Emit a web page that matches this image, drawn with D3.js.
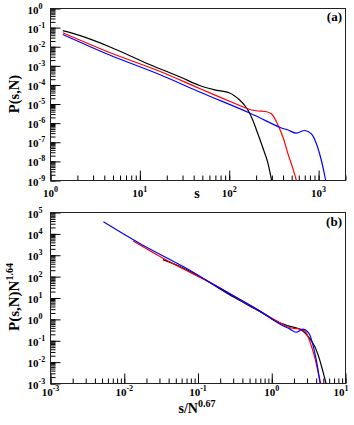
<!DOCTYPE html>
<html>
<head>
<meta charset="utf-8">
<script src="https://cdn.jsdelivr.net/npm/d3@7"></script>
<style>
  body { margin: 0; background: #fff; }
  text { font-family: "Liberation Serif", "Times New Roman", serif; font-weight: bold; fill: #000; }
</style>
</head>
<body>
<svg id="chart" width="354" height="425"></svg>
<script>
// system sizes and scaling exponents used for the collapse in panel (b)
const sizes = [256, 1024, 4096];
const colors = ['#000', '#f00', '#00f'];
const sExp = 0.67;
const pExp = 1.64;

// P(s,N)
const sBlack = [1.373, 2.112, 4.579, 12.84, 27.84, 46.62, 68.62, 101.0, 130.8, 156.6, 178.2, 202.7, 236.6, 269.2, 298.5, 330.8];
const pBlack = [0.070, 0.039, 1.0e-2, 1.174e-3, 2.70e-4, 9.35e-5, 5.57e-5, 3.79e-5, 1.63e-5, 6.21e-6, 1.98e-6, 4.13e-7, 5.52e-8, 9.06e-9, 1.0e-9, 1.64e-10];

const sRed = [1.373, 4.579, 16.62, 46.62, 130.8, 169.2, 208.0, 255.6, 298.5, 339.5, 399.4, 454.4, 516.8, 564.1, 598.7];
const pRed = [0.0535, 4.98e-3, 5.24e-4, 6.51e-5, 8.39e-6, 5.19e-6, 4.33e-6, 4.07e-6, 3.02e-6, 1.12e-6, 1.84e-7, 2.49e-8, 4.09e-9, 1.0e-9, 3.0e-10];

const sBlue = [1.373, 4.579, 16.62, 46.62, 169.2, 366.7, 454.4, 564.1, 698.8, 830.6, 944.9, 1075, 1201, 1265];
const pBlue = [0.04359, 3.69e-3, 3.52e-4, 4.27e-5, 3.40e-6, 6.15e-7, 4.39e-7, 2.98e-7, 4.13e-7, 2.77e-7, 8.32e-8, 1.11e-8, 1.0e-9, 3.0e-10];

const sData = [sBlack, sRed, sBlue];
const pData = [pBlack, pRed, pBlue];

// axis domains (decades)
const xDomainA = [1, 2000];
const yDomainA = [1e-9, 1];
const xDomainB = [1e-3, 10];
const yDomainB = [1e-3, 1e5];

const svg = d3.select('#chart');
const left = 50.5, right = 345.5;

const xA = d3.scaleLog().domain(xDomainA).range([left, right]);
const yA = d3.scaleLog().domain(yDomainA).range([180.5, 8.5]);
const xB = d3.scaleLog().domain(xDomainB).range([left, right]);
const yB = d3.scaleLog().domain(yDomainB).range([383.5, 212.5]);

// every m*10^k inside the domain
function logTicks(scale) {
  const [a, b] = scale.domain();
  const out = [];
  for (let k = Math.floor(Math.log10(a)); k <= Math.ceil(Math.log10(b)); k++) {
    for (let m = 1; m <= 9; m++) {
      const v = m * Math.pow(10, k);
      if (v >= a * 0.999 && v <= b * 1.001) out.push(v);
    }
  }
  return out;
}
function decades(scale) {
  return logTicks(scale).filter(v => Math.abs(Math.log10(v) - Math.round(Math.log10(v))) < 1e-9);
}
function powText(sel, v, supSize, dy) {
  const e = Math.round(Math.log10(v));
  sel.append('tspan').text('10');
  sel.append('tspan').attr('font-size', supSize).attr('dy', dy).text(e);
}

function drawPanel(id, x, y, lines, xLabelY) {
  const g = svg.append('g');
  const x0 = x.range()[0], x1 = x.range()[1];
  const yb = y.range()[0], yt = y.range()[1];

  g.append('clipPath').attr('id', id)
    .append('rect').attr('x', x0).attr('y', yt).attr('width', x1 - x0).attr('height', yb - yt);

  // ticks point inward, bottom and left only
  g.append('g').attr('transform', `translate(0,${yb})`)
    .call(d3.axisBottom(x).tickValues(logTicks(x)).tickSize(-5).tickFormat(''))
    .call(a => a.select('.domain').remove());
  g.append('g').attr('transform', `translate(0,${yb})`)
    .call(d3.axisBottom(x).tickValues(decades(x)).tickSize(-10).tickFormat(''))
    .call(a => a.select('.domain').remove());
  g.append('g').attr('transform', `translate(${x0},0)`)
    .call(d3.axisLeft(y).tickValues(logTicks(y)).tickSize(-5).tickFormat(''))
    .call(a => a.select('.domain').remove());
  g.append('g').attr('transform', `translate(${x0},0)`)
    .call(d3.axisLeft(y).tickValues(decades(y)).tickSize(-10).tickFormat(''))
    .call(a => a.select('.domain').remove());
  g.selectAll('.tick line').attr('stroke', '#000');

  // frame
  g.append('rect').attr('x', x0).attr('y', yt).attr('width', x1 - x0).attr('height', yb - yt)
    .attr('fill', 'none').attr('stroke', '#222').attr('stroke-width', 1);

  // tick labels
  decades(x).forEach(v => {
    const t = g.append('text').attr('x', Math.min(x(v), 341)).attr('y', xLabelY)
      .attr('text-anchor', 'middle').attr('font-size', 11);
    powText(t, v, 8, -5);
  });
  decades(y).forEach(v => {
    const t = g.append('text').attr('x', 27.5).attr('y', y(v) + 5).attr('font-size', 11);
    powText(t, v, 8, -5);
  });

  const line = d3.line().x(d => x(d[0])).y(d => y(d[1])).curve(d3.curveCatmullRom.alpha(0.5));
  g.append('g').attr('clip-path', `url(#${id})`)
    .selectAll('path').data(lines).join('path')
    .attr('d', d => line(d.pts))
    .attr('fill', 'none')
    .attr('stroke', d => d.color)
    .attr('stroke-width', 1.2);
  return g;
}

const linesA = sData.map((s, i) => ({ color: colors[i], pts: s.map((v, j) => [v, pData[i][j]]) }));
const linesB = sData.map((s, i) => ({
  color: colors[i],
  pts: s.map((v, j) => [v / Math.pow(sizes[i], sExp), pData[i][j] * Math.pow(sizes[i], pExp)])
}));

drawPanel('clipA', xA, yA, linesA, 197);
drawPanel('clipB', xB, yB, linesB, 396);

// axis titles
svg.append('text').attr('x', 197).attr('y', 198).attr('text-anchor', 'middle')
  .attr('font-size', 14).text('s');
svg.append('text').attr('transform', 'translate(19,94) rotate(-90)').attr('text-anchor', 'middle')
  .attr('font-size', 14.5).text('P(s,N)');

const yt = svg.append('text').attr('transform', 'translate(18.5,297) rotate(-90)')
  .attr('text-anchor', 'middle').attr('font-size', 15);
yt.append('tspan').text('P(s,N)N');
yt.append('tspan').attr('font-size', 10).attr('dy', -6).text(pExp.toFixed(2));

const xt = svg.append('text').attr('x', 197).attr('y', 413).attr('text-anchor', 'middle')
  .attr('font-size', 14);
xt.append('tspan').text('s/N');
xt.append('tspan').attr('font-size', 10).attr('dy', -6).text(sExp.toFixed(2));

svg.append('text').attr('x', 342).attr('y', 21).attr('text-anchor', 'end').attr('font-size', 13).text('(a)');
svg.append('text').attr('x', 342).attr('y', 226).attr('text-anchor', 'end').attr('font-size', 13).text('(b)');
</script>
</body>
</html>
